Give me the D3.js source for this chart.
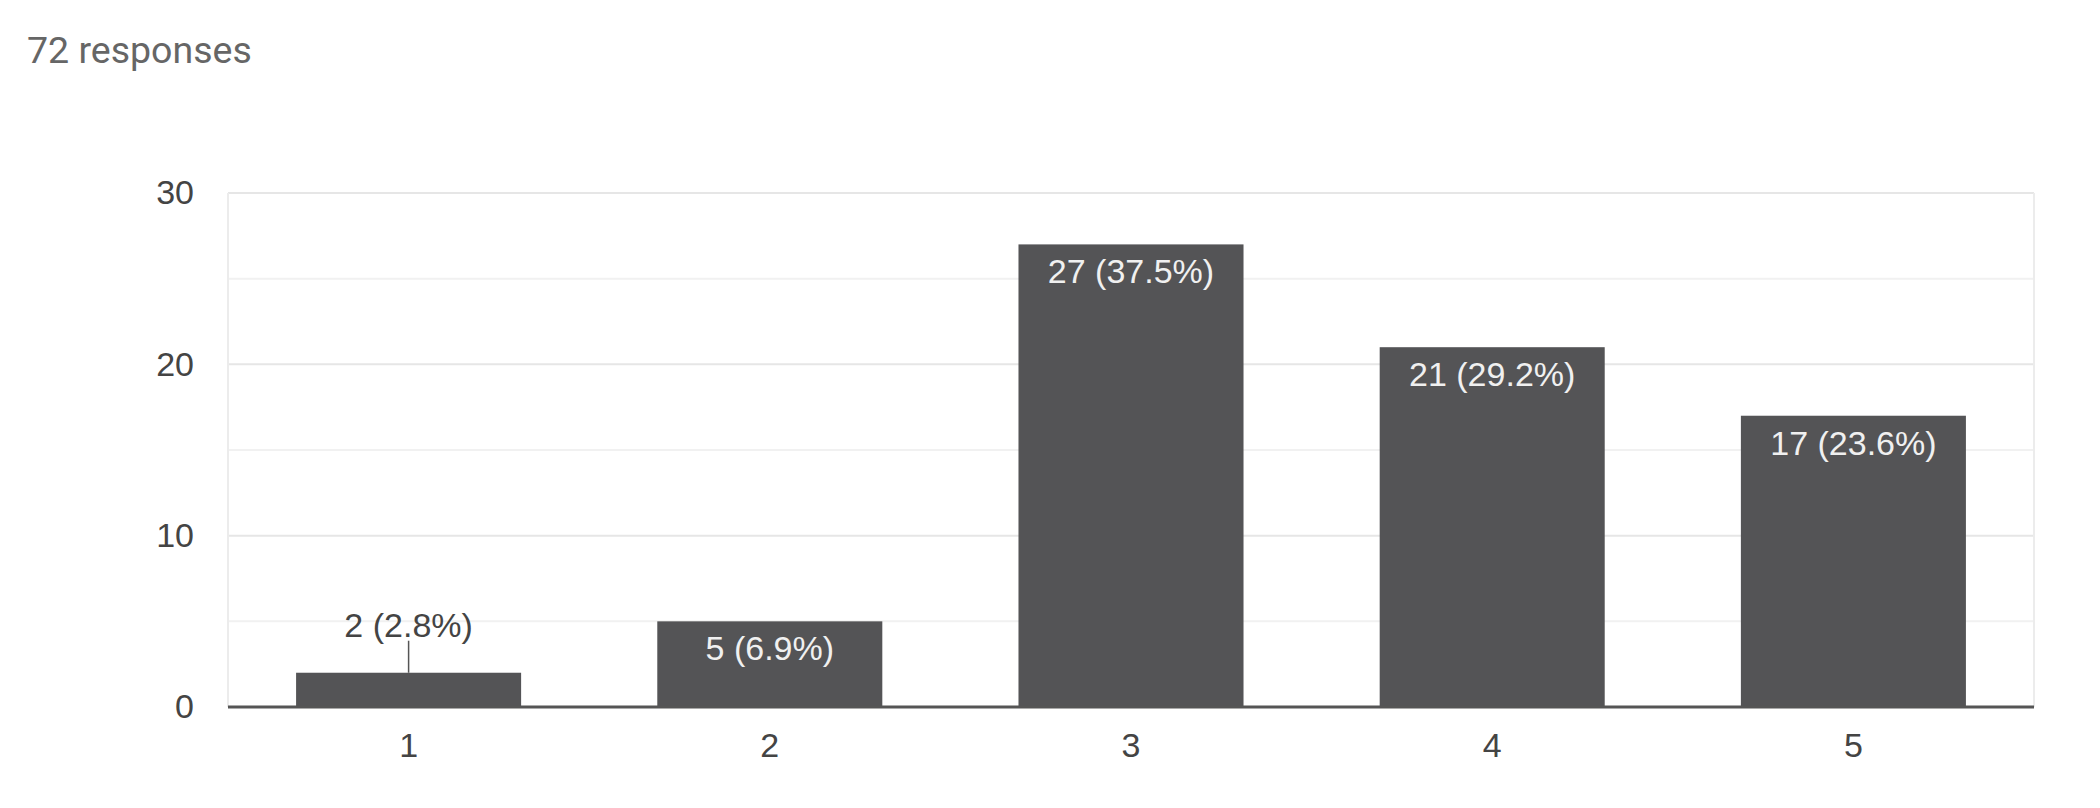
<!DOCTYPE html>
<html>
<head>
<meta charset="utf-8">
<script src="https://cdn.jsdelivr.net/npm/d3@7"></script>
<style>
  html, body { margin: 0; padding: 0; background: #fff; }
  #chart { width: 2100px; height: 808px; }
</style>
</head>
<body>
<div id="chart"></div>
<script>
// data
const totalResponses = 72
const categories = ["1", "2", "3", "4", "5"]
const counts = [2, 5, 27, 21, 17]
const percentLabels = ["2.8%", "6.9%", "37.5%", "29.2%", "23.6%"]
const majorTicks = [0, 10, 20, 30]
const minorTicks = [5, 15, 25]

const data = categories.map((c, i) => ({ cat: c, value: counts[i], pct: percentLabels[i] }))

const chartFont = "Arial, 'Liberation Sans', sans-serif"
const fontSize = 34

const fullW = 2100, fullH = 808
const margin = { top: 193, right: 66, bottom: 101, left: 228 },
  width = fullW - margin.left - margin.right,
  height = fullH - margin.top - margin.bottom

const svg = d3.select("#chart")
  .append("svg")
  .attr("width", fullW)
  .attr("height", fullH)
  .style("font-family", chartFont)

// header
svg.append("text")
  .attr("x", 27)
  .attr("y", 63)
  .attr("font-size", 37.5)
  .attr("font-family", "Roboto, sans-serif")
  .attr("fill", "#666")
  .text(`${totalResponses} responses`)

const g = svg.append("g")
  .attr("transform", `translate(${margin.left},${margin.top})`)

const x = d3.scaleBand()
  .domain(categories)
  .range([0, width])
  .paddingInner(0.377)
  .paddingOuter(0.1885)

const y = d3.scaleLinear()
  .domain([0, 30])
  .range([height, 0])

// gridlines
g.append("g")
  .selectAll("line.minor")
  .data(minorTicks)
  .join("line")
  .attr("x1", 0).attr("x2", width)
  .attr("y1", d => y(d)).attr("y2", d => y(d))
  .attr("stroke", "#f1f1f1")
  .attr("stroke-width", 2)

g.append("g")
  .selectAll("line.major")
  .data(majorTicks.filter(d => d > 0))
  .join("line")
  .attr("x1", 0).attr("x2", width)
  .attr("y1", d => y(d)).attr("y2", d => y(d))
  .attr("stroke", "#e6e6e6")
  .attr("stroke-width", 2)

// frame sides
g.selectAll("line.side")
  .data([0, width])
  .join("line")
  .attr("x1", d => d).attr("x2", d => d)
  .attr("y1", 0).attr("y2", height)
  .attr("stroke", "#ececec")
  .attr("stroke-width", 2)

// y axis labels
const yAxis = g.append("g")
  .call(d3.axisLeft(y).tickValues(majorTicks).tickSize(0).tickPadding(34))
yAxis.select(".domain").remove()
yAxis.selectAll("text")
  .attr("font-size", fontSize)
  .attr("fill", "#444")
  .attr("font-family", chartFont)

// x axis labels
const xAxis = g.append("g")
  .attr("transform", `translate(0,${height})`)
  .call(d3.axisBottom(x).tickSize(0).tickPadding(26))
xAxis.select(".domain").remove()
xAxis.selectAll("text")
  .attr("font-size", fontSize)
  .attr("fill", "#444")
  .attr("font-family", chartFont)

// bars
g.selectAll("rect.bar")
  .data(data)
  .join("rect")
  .attr("class", "bar")
  .attr("x", d => x(d.cat))
  .attr("y", d => y(d.value))
  .attr("width", x.bandwidth())
  .attr("height", d => height - y(d.value))
  .attr("fill", "#545456")

// baseline
g.append("line")
  .attr("x1", 0).attr("x2", width)
  .attr("y1", y(0)).attr("y2", y(0))
  .attr("stroke", "#555")
  .attr("stroke-width", 3)

// value labels, inside when there is room, above with a leader otherwise
data.forEach(d => {
  const cx = x(d.cat) + x.bandwidth() / 2
  const top = y(d.value)
  const label = `${d.value} (${d.pct})`
  if (height - top > 60) {
    g.append("text")
      .attr("x", cx)
      .attr("y", top + 39)
      .attr("text-anchor", "middle")
      .attr("font-size", fontSize)
      .attr("fill", "#f0f0f0")
      .text(label)
  } else {
    g.append("line")
      .attr("x1", cx).attr("x2", cx)
      .attr("y1", top - 32).attr("y2", top)
      .attr("stroke", "#555")
      .attr("stroke-width", 1.5)
    g.append("text")
      .attr("x", cx)
      .attr("y", top - 36)
      .attr("text-anchor", "middle")
      .attr("font-size", fontSize)
      .attr("fill", "#444")
      .text(label)
  }
})
</script>
</body>
</html>
